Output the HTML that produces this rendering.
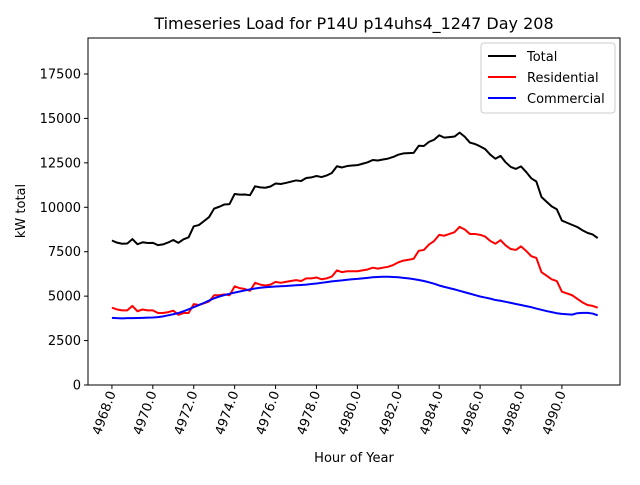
<!DOCTYPE html>
<html><head><meta charset="utf-8"><style>
body{margin:0;background:#fff;}
svg text{font-family:"DejaVu Sans","Liberation Sans",sans-serif;}
</style></head><body>
<svg id="chart" width="640" height="480" xmlns="http://www.w3.org/2000/svg">
<rect width="640" height="480" fill="#fff"/>
<text x="354" y="29" font-size="16" text-anchor="middle">Timeseries Load for P14U p14uhs4_1247  Day 208</text>
<g id="plot"></g>
<text x="354" y="462" font-size="13" text-anchor="middle">Hour of Year</text>
<text transform="translate(25,211) rotate(-90)" font-size="13" text-anchor="middle">kW total</text>
<g>
<rect x="481" y="43" width="134" height="70" fill="#fff" stroke="#ccc" rx="3"/>
<line x1="488" y1="56" x2="516" y2="56" stroke="#000" stroke-width="2"/>
<text x="527" y="61" font-size="13">Total</text>
<line x1="488" y1="77" x2="516" y2="77" stroke="#f00" stroke-width="2"/>
<text x="527" y="82" font-size="13">Residential</text>
<line x1="488" y1="98" x2="516" y2="98" stroke="#00f" stroke-width="2"/>
<text x="527" y="103" font-size="13">Commercial</text>
</g>
</svg>
<script>
const startHour = 4968;
const stepHours = 0.25;
const total = [8130,8010,7950,7960,8210,7920,8030,7990,8000,7870,7910,8020,8160,8000,8200,8310,8930,9000,9220,9450,9930,10030,10160,10180,10750,10710,10720,10680,11180,11120,11100,11170,11340,11310,11370,11440,11510,11480,11650,11680,11760,11700,11790,11930,12310,12240,12320,12350,12370,12450,12530,12660,12630,12690,12740,12830,12960,13030,13050,13060,13460,13450,13680,13800,14050,13920,13950,13980,14200,13970,13640,13560,13430,13270,12960,12730,12890,12530,12270,12160,12300,11990,11630,11450,10580,10310,10050,9890,9250,9130,9010,8890,8710,8560,8470,8270];
const residential = [4350,4250,4200,4200,4450,4150,4250,4200,4200,4050,4050,4100,4180,3950,4050,4050,4550,4500,4600,4700,5050,5050,5100,5050,5550,5450,5400,5300,5750,5650,5600,5650,5800,5750,5800,5850,5900,5850,6000,6000,6050,5950,6000,6100,6450,6350,6400,6400,6400,6450,6500,6600,6550,6600,6650,6750,6900,7000,7050,7100,7550,7600,7900,8100,8450,8400,8500,8600,8900,8750,8500,8500,8450,8350,8100,7950,8150,7850,7650,7600,7800,7550,7250,7150,6350,6150,5950,5850,5250,5150,5050,4850,4650,4500,4450,4350];
const commercial = [3780,3760,3750,3760,3760,3770,3780,3790,3800,3820,3860,3920,3980,4050,4150,4260,4380,4500,4620,4750,4880,4980,5060,5130,5200,5260,5320,5380,5430,5470,5500,5520,5540,5560,5570,5590,5610,5630,5650,5680,5710,5750,5790,5830,5860,5890,5920,5950,5970,6000,6030,6060,6080,6090,6090,6080,6060,6030,6000,5960,5910,5850,5780,5700,5600,5520,5450,5380,5300,5220,5140,5060,4980,4920,4860,4780,4740,4680,4620,4560,4500,4440,4380,4300,4230,4160,4100,4040,4000,3980,3960,4040,4060,4060,4020,3920];
const yTicks = [0,2500,5000,7500,10000,12500,15000,17500];
const xTicks = [4968,4970,4972,4974,4976,4978,4980,4982,4984,4986,4988,4990];

const L=88,R=620,T=38,B=385;
const xMin=4966.83,xMax=4992.84,yMin=0,yMax=19525;
const sx=v=>L+(v-xMin)/(xMax-xMin)*(R-L);
const sy=v=>B-(v-yMin)/(yMax-yMin)*(B-T);
const NS="http://www.w3.org/2000/svg";
const g=document.getElementById('plot');
function mk(t,a){const e=document.createElementNS(NS,t);for(const k in a)e.setAttribute(k,a[k]);g.appendChild(e);return e;}

const frame=mk('rect',{x:L,y:T,width:R-L,height:B-T,fill:'none',stroke:'#000','stroke-width':1});



yTicks.forEach(v=>{
  const y=sy(v);
  const tk=mk('line',{x1:L-4,y1:y,x2:L,y2:y,stroke:'#000'});
  
  
  const t=mk('text',{x:L-7,y:y+4.5,'font-size':13,'text-anchor':'end'});
  t.textContent=v;
  
  
});
xTicks.forEach(v=>{
  const x=sx(v);
  const tk=mk('line',{x1:x,y1:B,x2:x,y2:B+4,stroke:'#000'});
  
  
  const t=mk('text',{transform:`translate(${x+4},${B+8}) rotate(-70)`,'font-size':13,'text-anchor':'end'});
  t.textContent=v.toFixed(1);
  
  
});
function line(arr,color,name){
  const d=arr.map((v,i)=>(i?'L':'M')+sx(startHour+i*stepHours).toFixed(2)+','+sy(v).toFixed(2)).join('');
  const p=mk('path',{d:d,fill:'none',stroke:color,'stroke-width':2,'stroke-linejoin':'round'});
  
  
}
line(total,'#000','total-line');
line(residential,'#f00','residential-line');
line(commercial,'#00f','commercial-line');
</script>
</body></html>
